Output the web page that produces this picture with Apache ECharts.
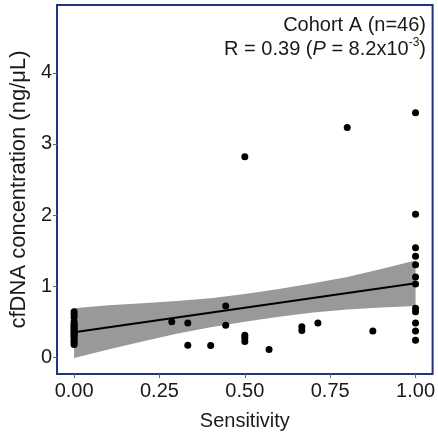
<!DOCTYPE html>
<html>
<head>
<meta charset="utf-8">
<script src="https://cdn.jsdelivr.net/npm/echarts@6/dist/echarts.min.js"></script>
<style>html,body{margin:0;padding:0;background:#fff}#c{width:438px;height:436px}</style>
</head>
<body>
<div id="c"></div>
<script>
// Observed points (sensitivity, cfDNA concentration)
const sensitivity = [
  0,0,0,0,0,0,0,0,0,0,0,0,0,0,0,0,0,0,
  0.286,0.333,0.333,0.40,0.444,0.444,0.50,0.50,0.50,0.571,0.667,0.667,0.714,0.875,0.50,0.80,
  1,1,1,1,1,1,1,1,1,1,1,1
];
const concentration = [
  0.64,0.60,0.56,0.50,0.47,0.45,0.43,0.41,0.39,0.37,0.35,0.33,0.31,0.29,0.27,0.24,0.21,0.18,
  0.50,0.48,0.17,0.165,0.72,0.45,0.31,0.27,0.22,0.11,0.43,0.375,0.48,0.37,2.82,3.23,
  3.44,2.01,1.54,1.42,1.30,1.13,1.03,0.69,0.64,0.48,0.37,0.24
];
// Fitted line and confidence band
const fitX = [0, 1];
const fitY = [0.35, 1.04];
const bandX = [0, 0.1, 0.2, 0.3, 0.4, 0.5, 0.6, 0.7, 0.8, 0.9, 1.0];
const bandLow = [-0.01, 0.11, 0.22, 0.33, 0.42, 0.50, 0.57, 0.63, 0.67, 0.70, 0.72];
const bandHigh = [0.69, 0.73, 0.76, 0.79, 0.83, 0.89, 0.96, 1.04, 1.13, 1.24, 1.36];
const xTicks = [0, 0.25, 0.5, 0.75, 1];
const yTicks = [0, 1, 2, 3, 4];

const FONT = 'Liberation Sans, Arial, sans-serif';
const TXT = '#1a1a1a';
const chart = echarts.init(document.getElementById('c'));
chart.setOption({
  animation: false,
  grid: {left: 57, right: 5, top: 5, bottom: 60, show: true, borderColor: '#1f3580', borderWidth: 2, backgroundColor: 'transparent'},
  xAxis: {
    type: 'value', min: -0.05, max: 1.05,
    name: 'Sensitivity', nameLocation: 'middle', nameGap: 37,
    nameTextStyle: {fontFamily: FONT, fontSize: 20, color: TXT},
    axisLine: {show: false, onZero: false},
    splitLine: {show: false},
    axisTick: {show: true, length: 4, lineStyle: {color: '#666'}, customValues: xTicks},
    axisLabel: {fontFamily: FONT, fontSize: 20, color: TXT, margin: 7, customValues: xTicks,
      formatter: v => v.toFixed(2)}
  },
  yAxis: {
    type: 'value', min: -0.236, max: 4.955,
    name: 'cfDNA concentration (ng/μL)', nameLocation: 'middle', nameGap: 26,
    nameTextStyle: {fontFamily: FONT, fontSize: 22, color: TXT},
    axisLine: {show: false, onZero: false},
    splitLine: {show: false},
    axisTick: {show: true, length: 4, lineStyle: {color: '#666'}, customValues: yTicks},
    axisLabel: {fontFamily: FONT, fontSize: 20, color: TXT, margin: 5, customValues: yTicks,
      formatter: v => String(Math.round(v))}
  },
  series: [
    {type: 'custom', data: [[0, 0]], z: 1, silent: true,
      renderItem: function (params, api) {
        const pts = [];
        for (let i = 0; i < bandX.length; i++) pts.push(api.coord([bandX[i], bandHigh[i]]));
        for (let i = bandX.length - 1; i >= 0; i--) pts.push(api.coord([bandX[i], bandLow[i]]));
        return {type: 'polygon', shape: {points: pts}, style: {fill: '#999999', stroke: null}};
      }},
    {type: 'line', data: fitX.map((x, i) => [x, fitY[i]]), symbol: 'none',
      lineStyle: {color: '#000', width: 2}, z: 2},
    {type: 'scatter', data: sensitivity.map((x, i) => [x, concentration[i]]),
      symbolSize: 7, itemStyle: {color: '#000', opacity: 1}, z: 3}
  ],
  graphic: [
    {type: 'text', right: 12, top: 15, style: {text: 'Cohort A (n=46)', fontFamily: FONT, fontSize: 20, fill: TXT, textAlign: 'right'}},
    {type: 'text', right: 12, top: 37, style: {
      text: '{a|R = 0.39 (}{i|P}{a| = 8.2x10}{s|-3}{a|)}',
      rich: {
        a: {fontFamily: FONT, fontSize: 20, fill: TXT, lineHeight: 24},
        i: {fontFamily: FONT, fontSize: 20, fontStyle: 'italic', fill: TXT, lineHeight: 24},
        s: {fontFamily: FONT, fontSize: 12, fill: TXT, lineHeight: 13, verticalAlign: 'top'}
      }
    }}
  ]
});
</script>
</body>
</html>
